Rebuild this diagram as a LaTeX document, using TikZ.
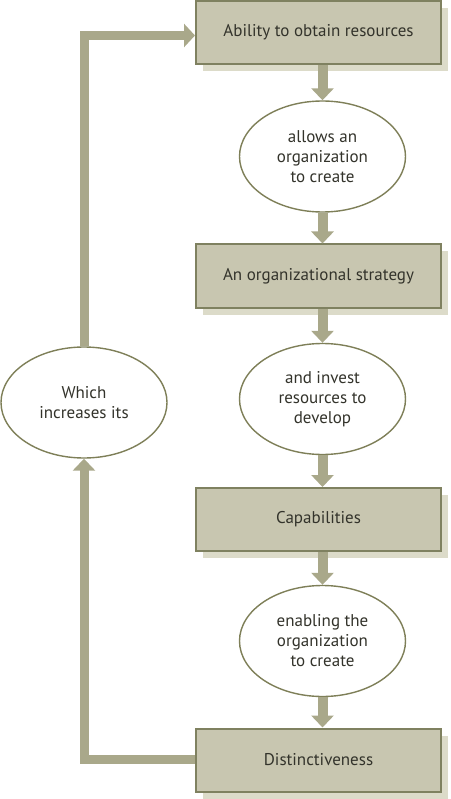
\documentclass[tikz,border=0pt]{standalone}
\usepackage{fontspec}
\setmainfont{PT Sans}
\usetikzlibrary{arrows.meta,shapes.geometric,shadows}
\definecolor{boxfill}{HTML}{C8C6B0}
\definecolor{boxline}{HTML}{7F8160}
\definecolor{shadowc}{HTML}{DCDBC9}
\definecolor{arrowc}{HTML}{A9A88A}
\definecolor{ellline}{HTML}{7E7F58}
\definecolor{txt}{HTML}{33332B}
\tikzset{
  boxnode/.style={draw=boxline, line width=2pt, fill=boxfill, minimum width=245pt, minimum height=63pt,
    inner sep=0pt, text=txt, font=\fontsize{17}{20}\selectfont,
    drop shadow={shadow xshift=7pt, shadow yshift=-7pt, fill=shadowc, opacity=1}},
  ellnode/.style={ellipse, draw=ellline, line width=1.4pt, fill=white, minimum width=166pt, minimum height=111pt,
    inner sep=0pt, text=txt, align=center, font=\fontsize{17}{20}\selectfont},
  arr/.style={draw=arrowc, line width=10pt, -{Triangle[width=22pt,length=12pt,fill=arrowc]}},
  looparr/.style={draw=arrowc, line width=9pt, line join=miter, -{Triangle[width=22pt,length=12pt,fill=arrowc]}},
}
\begin{document}
\begin{tikzpicture}[x=1pt,y=-1pt]
\useasboundingbox (0,0) rectangle (450,799);
\node[boxnode] (b1) at (318.5,32.5) {Ability to obtain resources};
\node[ellnode] (e1) at (322.5,156.5) {allows an\\organization\\to create};
\node[boxnode] (b2) at (318.5,276) {An organizational strategy};
\node[ellnode] (e2) at (322.5,399) {and invest\\resources to\\develop};
\node[boxnode] (b3) at (318.5,519.5) {Capabilities};
\node[ellnode] (e3) at (322.5,641) {enabling the\\organization\\to create};
\node[boxnode] (b4) at (318.5,760) {Distinctiveness};
\node[ellnode] (eL) at (84,402.5) {Which\\increases its};
\coordinate (bl) at (84,759.5);
\coordinate (tl) at (84,35.5);
\draw[arr] (b1.south -| e1.north) -- (e1.north);
\draw[arr] (e1.south) -- (b2.north -| e1.south);
\draw[arr] (b2.south -| e2.north) -- (e2.north);
\draw[arr] (e2.south) -- (b3.north -| e2.south);
\draw[arr] (b3.south -| e3.north) -- (e3.north);
\draw[arr] (e3.south) -- (b4.north -| e3.south);
\draw[looparr] (b4.west |- bl) -- (bl) -- (eL.south);
\draw[looparr, -{Triangle[width=23pt,length=11pt,fill=arrowc]}] (eL.north) -- (tl) -- (b1.west |- tl);
\end{tikzpicture}
\end{document}
